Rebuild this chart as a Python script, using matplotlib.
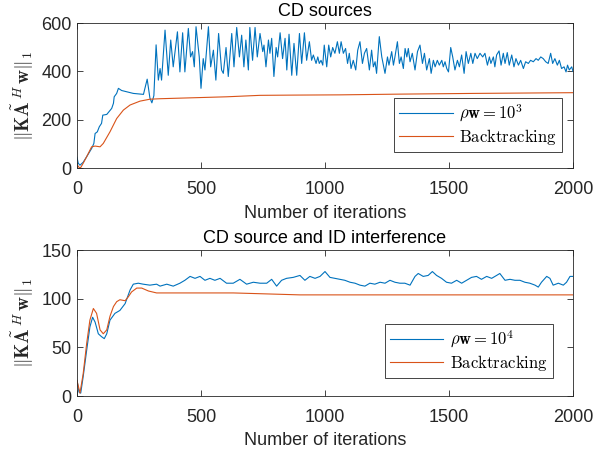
import matplotlib.pyplot as plt

# values
top_blue_it = [0, 5, 12, 25, 39, 59, 68, 73, 82, 90, 99, 104, 120, 140, 147, 150, 160, 167, 180, 200,
               227, 268, 283, 294, 302, 310, 319, 328, 335, 341, 355, 368, 378, 388, 405, 415, 426, 435,
               449, 458, 466, 473, 480, 493, 500, 509, 516, 530, 539, 550, 560, 571, 583, 590, 601, 610,
               624, 633, 644, 655, 664, 673, 681, 691, 697, 708, 718, 727, 738, 749, 754, 762, 772, 778,
               785, 794, 803, 809, 819, 829, 839, 846, 855, 866, 875, 886, 897, 906, 917, 926, 937, 946,
               953, 964, 971, 977, 984, 991, 997, 1007, 1015, 1023, 1031, 1040, 1050, 1058, 1065, 1074,
               1083, 1091, 1098, 1105, 1114, 1124, 1132, 1141, 1151, 1159, 1168, 1179, 1188, 1195, 1202,
               1208, 1219, 1229, 1242, 1252, 1258, 1269, 1276, 1282, 1292, 1300, 1307, 1316, 1323, 1330,
               1336, 1343, 1352, 1363, 1373, 1383, 1393, 1401, 1410, 1421, 1428, 1437, 1444, 1453, 1461,
               1471, 1477, 1484, 1491, 1498, 1507, 1515, 1524, 1534, 1542, 1551, 1561, 1569, 1578, 1588,
               1596, 1605, 1614, 1625, 1636, 1645, 1655, 1663, 1669, 1679, 1685, 1692, 1702, 1710, 1719,
               1726, 1735, 1743, 1753, 1762, 1770, 1780, 1789, 1800, 1809, 1820, 1829, 1840, 1851, 1860,
               1870, 1880, 1890, 1900, 1910, 1918, 1927, 1937, 1945, 1954, 1964, 1972, 1978, 1985, 1995,
               2000]
top_blue = [45, 20, 12, 24, 47, 81, 102, 143, 150, 171, 185, 219, 222, 247, 268, 295, 309, 330, 321, 316,
            309, 305, 368, 290, 270, 300, 510, 364, 412, 364, 571, 384, 530, 419, 564, 398, 560, 398,
            578, 460, 482, 419, 585, 460, 330, 453, 406, 585, 419, 488, 364, 557, 406, 392, 499, 379,
            557, 419, 582, 460, 550, 419, 530, 406, 582, 446, 582, 460, 557, 482, 509, 419, 530, 475,
            537, 379, 499, 460, 560, 453, 537, 406, 554, 384, 516, 384, 557, 433, 560, 446, 523, 446,
            468, 433, 460, 433, 446, 426, 509, 419, 509, 460, 499, 475, 523, 475, 523, 475,
            495, 433, 475, 412, 446, 406, 488, 523, 433, 475, 495, 406, 488, 419, 440,
            392, 544, 460, 392, 460, 426, 482, 426, 460, 523, 433, 460, 412, 495, 460,
            495, 440, 475, 406, 482, 509, 433, 475, 406, 453, 392, 446, 419, 446, 426,
            446, 419, 440, 412, 398, 499, 460, 406, 446, 419, 468, 392, 482, 433, 475,
            433, 475, 453, 475, 460, 475, 426, 460, 433, 460, 419, 468, 485, 426, 475,
            433, 478, 426, 468, 419, 453, 426, 446, 412, 440, 433, 446, 440, 453, 446,
            460, 453, 440, 433, 475, 433, 453, 426, 446, 412, 419, 398, 426, 406, 419,
            400]

top_orange_it = [0, 8, 15, 25, 39, 59, 73, 93, 106, 133, 160, 187, 214, 254, 294, 335, 469, 604, 738,
                 872, 1060, 1300, 1600, 2000]
top_orange = [15, 3, 2, 20, 47, 88, 91, 88, 102, 150, 205, 240, 261, 277, 285, 287, 291, 295, 301,
              302, 303, 306, 309, 312]

bot_blue_it = [0, 8, 15, 25, 39, 52, 63, 73, 86, 99, 110, 120, 133, 153, 173, 194, 214, 227, 247, 267,
               294, 321, 335, 362, 388, 415, 435, 456, 476, 496, 516, 536, 556, 577, 603, 630, 657, 684,
               711, 738, 765, 785, 805, 825, 845, 872, 899, 919, 939, 960, 980, 1000, 1020, 1040, 1060,
               1080, 1101, 1121, 1141, 1161, 1181, 1201, 1222, 1242, 1262, 1282, 1302, 1322, 1343, 1363,
               1376, 1396, 1416, 1433, 1450, 1470, 1490, 1510, 1531, 1551, 1571, 1591, 1611, 1631, 1652,
               1672, 1692, 1705, 1726, 1746, 1766, 1786, 1806, 1826, 1847, 1860, 1873, 1894, 1907, 1920,
               1941, 1961, 1974, 1988, 2000]
bot_blue = [16, 4, 3, 20, 47, 71, 81, 76, 64, 61, 59, 64, 78, 85, 88, 95, 109, 115, 116, 115,
            114, 115, 113, 115, 113, 116, 119, 123, 121, 123, 119, 121, 119, 121, 116, 116, 120, 115,
            117, 116, 116, 120, 113, 119, 121, 122, 124, 119, 123, 121, 123, 128, 122, 121, 120,
            119, 117, 116, 114, 113, 116, 115, 117, 116, 119, 117, 116, 116, 114, 123,
            126, 123, 124, 128, 124, 121, 117, 116, 119, 116, 119, 122, 123, 120, 123,
            121, 124, 126, 119, 120, 119, 119, 117, 116, 114, 112, 117, 123, 121, 114,
            116, 114, 117, 123, 123]

bot_orange_it = [0, 12, 25, 39, 52, 66, 79, 93, 106, 120, 133, 147, 160, 173, 194, 207, 220, 241, 261,
                 288, 321, 429, 630, 765, 899, 1200, 1600, 2000]
bot_orange = [16, 3, 23, 54, 78, 90, 85, 68, 64, 68, 82, 92, 97, 99, 98, 102, 107, 111, 111,
              108, 106, 106, 106, 105, 104, 104, 104, 104]

blue = '#0072BD'
orange = '#D95319'
dark = '#262626'

plt.rcParams['font.family'] = 'Liberation Sans'
plt.rcParams['mathtext.fontset'] = 'cm'

fig = plt.figure(figsize=(5.95, 4.53), dpi=100)
ax1 = fig.add_axes([0.1294, 0.629, 0.8336, 0.320])
ax2 = fig.add_axes([0.1294, 0.1258, 0.8336, 0.322])

ylab = r'$\|\mathbf{K}\tilde{\mathbf{A}}^{\,H}\,\mathbf{w}\|_1$'

ax1.plot(top_blue_it, top_blue, color=blue, lw=0.8, label=r'$\rho\mathbf{w} = 10^3$')
ax1.plot(top_orange_it, top_orange, color=orange, lw=0.8, label=r'$\mathrm{Backtracking}$')
ax1.set_ylim(0, 600)
ax1.set_yticks([0, 200, 400, 600])
ax1.set_title('CD sources', fontsize=13, color='k', pad=5)
leg1 = ax1.legend(loc='lower right', bbox_to_anchor=(0.9445, 0.6645), bbox_transform=fig.transFigure,
                  borderaxespad=0, fontsize=12, fancybox=False, handlelength=3.2,
                  labelspacing=0.15, borderpad=0.3, handletextpad=0.4)

ax2.plot(bot_blue_it, bot_blue, color=blue, lw=0.8, label=r'$\rho\mathbf{w} = 10^4$')
ax2.plot(bot_orange_it, bot_orange, color=orange, lw=0.8, label=r'$\mathrm{Backtracking}$')
ax2.set_ylim(0, 150)
ax2.set_yticks([0, 50, 100, 150])
ax2.set_title('CD source and ID interference', fontsize=13, color='k', pad=5)
leg2 = ax2.legend(loc='lower right', bbox_to_anchor=(0.929, 0.1656), bbox_transform=fig.transFigure,
                  borderaxespad=0, fontsize=12, fancybox=False, handlelength=3.2,
                  labelspacing=0.15, borderpad=0.3, handletextpad=0.4)

for ax, leg in [(ax1, leg1), (ax2, leg2)]:
    ax.set_xlim(0, 2000)
    ax.set_xticks([0, 500, 1000, 1500, 2000])
    ax.set_xlabel('Number of iterations', fontsize=13, color=dark, labelpad=5)
    ax.set_ylabel(ylab, fontsize=14, color=dark, labelpad=4)
    ax.tick_params(direction='in', top=True, right=True, labelsize=13, colors=dark, length=4, width=0.6)
    ax.tick_params(axis='x', pad=9)
    ax.tick_params(axis='y', pad=4)
    for s in ax.spines.values():
        s.set_color(dark)
        s.set_linewidth(0.6)
    frame = leg.get_frame()
    frame.set_edgecolor(dark)
    frame.set_linewidth(0.6)
    frame.set_alpha(1)

fig.savefig('out.png', dpi=100)
